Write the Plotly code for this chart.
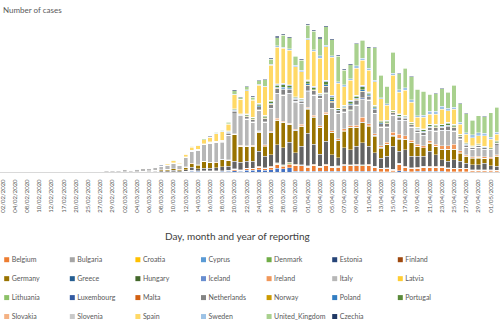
import plotly.graph_objects as go

dates = ["02/02/2020","03/02/2020","04/02/2020","06/02/2020","08/02/2020","09/02/2020","10/02/2020","11/02/2020",
         "12/02/2020","14/02/2020","17/02/2020","18/02/2020","20/02/2020","22/02/2020","25/02/2020","26/02/2020",
         "27/02/2020","28/02/2020","29/02/2020",
         "01/03/2020","02/03/2020","03/03/2020","04/03/2020","05/03/2020","06/03/2020","07/03/2020","08/03/2020",
         "09/03/2020","10/03/2020","11/03/2020","12/03/2020","13/03/2020","14/03/2020","15/03/2020","16/03/2020",
         "17/03/2020","18/03/2020","19/03/2020","20/03/2020","21/03/2020","22/03/2020","23/03/2020","24/03/2020",
         "25/03/2020","26/03/2020","27/03/2020","28/03/2020","29/03/2020","30/03/2020","31/03/2020",
         "01/04/2020","02/04/2020","03/04/2020","04/04/2020","05/04/2020","06/04/2020","07/04/2020","08/04/2020",
         "09/04/2020","10/04/2020","11/04/2020","12/04/2020","13/04/2020","14/04/2020","15/04/2020","16/04/2020",
         "17/04/2020","18/04/2020","19/04/2020","20/04/2020","21/04/2020","22/04/2020","23/04/2020","24/04/2020",
         "25/04/2020","26/04/2020","27/04/2020","28/04/2020","29/04/2020","30/04/2020",
         "01/05/2020","02/05/2020"]

countries = ["Austria","Belgium","Bulgaria","Croatia","Cyprus","Denmark","Estonia","Finland","France","Germany",
             "Greece","Hungary","Iceland","Ireland","Italy","Latvia","Liechtenstein","Lithuania","Luxembourg","Malta",
             "Netherlands","Norway","Poland","Portugal","Romania","Slovakia","Slovenia","Spain","Sweden",
             "United_Kingdom","Czechia"]

colors = ["#4472C4","#ED7D31","#A5A5A5","#FFC000","#5B9BD5","#70AD47","#264478","#9E480E","#636363","#997300",
          "#255E91","#43682B","#698ED0","#F1975A","#B7B7B7","#FFCD33","#7CAFDD","#8CC168","#335AA1","#D26012",
          "#848484","#CC9A00","#327DC2","#5A8A39","#8FAADC","#F4B183","#C9C9C9","#FFD966","#9DC3E6",
          "#A9D18E","#203864"]

# countries whose legend column lies outside the visible crop
hidden_in_legend = ["Austria", "France", "Liechtenstein", "Romania"]

Austria = [0]*14 + [2,0,3,0,4,4,4,7,11,14] + [15,20,35,45,60,60,70,175,140,115,115,115,155,155,315,235,430,430,620,430,620,1020,820,1090,220,220,165,220,165,220,165,165,220,220,220,220,220,165,115,115,60,270,165,115,135,165,165,165,165,115,115,115,115,60,60,60,60,40]
Belgium = [0]*19 + [0,1,6,5,27] + [10,20,30,40,50,50,65,155,125,105,105,105,135,135,280,210,385,385,550,385,550,905,730,970,1365,1365,1035,1365,1035,1365,1035,1035,1365,1365,1365,1365,1365,1035,720,720,390,1695,1035,720,840,1035,1035,1035,1035,720,720,720,720,390,390,390,390,255]
Bulgaria = [0]*24 + [0,0,4,0,2,1,0,16,8,10,0,15,20,10,13,20,33,12,37,24,22,24,28,26,13,38,45,45,25,36,28,46,40,38,22,22,61,24,22,20,46,33,45,56,38,52,48,37,36,54,38,25,23,40,33,34,65,62]
Croatia = [0]*14 + [1,2,0,0,2,1,1,2,0,2] + [1,1,0,1,2,5,5,11,11,6,9,9,8,20,40,21,51,48,52,73,71,91,79,56,96,66,67,81,96,70,51,82,43,69,65,58,54,61,37,33,42,20,30,28,22,29,19,16,28,18,10,30,23,6,11,5,20,6]
Cyprus = [0]*24 + [0,0,0,2,0,0,0,4,12,7,6,7,13,8,9,9,20,8,21,14,16,16,0,41,21,14,52,38,39,24,19,44,45,26,40,15,39,40,11,29,21,10,11,18,9,6,11,12,15,12,17,15,9,15,7,3,5,7]
Denmark = [0]*21 + [1,4,10] + [2,4,6,7,9,9,11,27,22,18,18,18,24,24,49,36,67,67,97,67,97,158,127,169,127,127,97,127,97,127,97,97,127,127,127,127,127,97,67,67,36,158,97,67,78,97,97,97,97,67,67,67,67,36,36,36,36,24]
Estonia = [0]*16 + [1,0,0,0,0,1,1,7] + [7,0,0,0,3,0,15,11,52,13,0,80,12,45,69,43,0,43,46,40,33,36,47,34,58,31,70,34,27,73,43,44,37,22,65,36,46,53,25,21,61,42,33,38,32,65,26,29,13,21,20,25,38,14,31,7,5,0]
Finland = [0]*22 + [1,3] + [1,2,3,4,5,5,6,16,12,10,10,10,14,14,28,21,38,38,55,38,55,90,73,97,73,73,55,73,55,73,55,55,73,73,73,73,73,55,38,38,21,90,55,38,45,55,55,55,55,38,38,38,38,21,21,21,21,14]
France = [0,0,0,6,0,0,0,1,0,0,0,0,0,0,2,4,20,19,43,30,30,61,21,73] + [130,180,260,260,310,260,440,780,520,700,700,700,1040,1040,2000,1900,1740,1740,3900,3040,3040,4760,4340,5200,3040,4760,8500,5200,3040,6060,3040,2160,4340,3900,4760,5640,4760,3460,2600,3040,6060,3040,4340,3040,2860,2600,3900,3040,1740,1740,2160,1740,1300,1300,1300,1740,1040,1040]
Germany = [2,2,2,1,1,0,0,2,0,2,0,0,0,0,2,2,10,27,9,57,28,28,39,66] + [180,180,260,310,390,210,650,910,910,1740,1480,1300,1740,1560,6940,4160,3900,3900,4940,2600,5640,6320,6500,4600,5640,5200,6240,6940,6940,6940,5640,4340,4340,5640,4760,5200,5200,4340,2600,3040,2600,3200,2600,3460,2600,2160,2160,2160,2600,3040,2600,2160,1740,1740,1740,1300,1740,2600]
Greece = [0]*15 + [0,1,2,1,2,0,2,0,1] + [14,7,11,11,6,15,19,35,32,38,20,36,35,31,23,53,35,49,71,48,70,72,73,71,49,44,52,20,57,30,65,47,50,48,33,22,22,26,13,28,48,21,3,12,16,29,11,15,23,30,3,25,27,40,72,0,15,42]
Hungary = [0]*22 + [2,0] + [0,3,2,2,4,3,3,6,11,2,7,11,8,15,27,18,29,36,21,35,18,39,43,36,41,39,55,62,38,38,48,52,68,43,67,70,63,85,93,78,88,114,93,99,66,31,109,73,114,99,72,58,78,50,111,37,81,77]
Iceland = [0]*17 + [1,0,0,2,10,10,13] + [8,3,10,8,16,31,18,57,21,46,9,53,70,34,77,69,30,79,120,49,89,69,63,90,77,79,78,88,54,84,39,43,23,45,80,42,33,54,24,42,16,26,11,13,10,14,22,6,3,2,3,1,3,7,3,4,0,1]
Ireland = [0]*24 + [0,0,0,5,10,10,20,20,30,40,60,70,80,100,120,100,120,120,200,200,250,300,300,200,300,300,300,400,400,400,400,400,400,400,500,1300,500,500,440,500,860,1120,860,500,500,500,500,500,860,860,1300,440,300,300,300,300,300,300]
Italy = [0,0,0,0,0,0,0,0,0,0,0,0,3,14,127,93,78,250,238,240,561,347,466,587] + [600,780,860,1120,1370,1160,2400,3180,3790,4300,4960,5130,4420,6320,5080,7750,6820,5940,5260,5860,5810,6380,6640,7600,7060,5340,4040,5240,6960,4800,5660,6540,4360,3940,5140,4760,6000,5140,4760,3840,4340,3460,3900,3400,2960,2540,2540,3400,3900,3900,3460,3040,1860,1860,2300,1860,1700,2300]
Latvia = [0]*22 + [1,0] + [0,0,1,1,5,0,8,8,0,6,0,16,26,26,25,0,22,19,17,24,12,21,33,21,24,29,0,30,45,20,0,9,7,13,23,28,16,7,10,16,22,0,14,12,13,7,0,2,10,9,14,8,3,22,6,4,7,13]
Liechtenstein = [0]*24 + [0,0,0,0,0,0,1,3,0,0,3,0,0,0,21,0,10,0,0,0,5,0,5,0,0,0,0,0,6,0,0,0,2,0,1,2,0,0,0,0,0,0,0,0,1,0,0,0,0,0,0,0,0,0,0,0,0,0]
Lithuania = [0]*17 + [1,0,0,0,0,0,0] + [0,0,0,0,1,0,1,2,2,4,0,8,2,15,9,20,22,20,34,25,65,25,83,48,79,62,58,40,36,59,72,63,81,69,49,112,38,79,44,34,30,36,56,41,37,34,27,18,22,47,30,58,27,13,20,18,6,13]
Luxembourg = [0]*19 + [1,0,0,0,1] + [2,2,3,5,3,3,3,6,17,12,22,34,48,45,52,16,52,52,70,70,86,104,122,94,52,52,122,86,52,138,138,52,70,104,104,138,86,86,70,70,52,70,52,52,52,70,70,70,70,86,70,52,52,34,34,34,34,52]
Malta = [0]*24 + [0,1,2,0,0,2,3,6,4,4,7,7,8,10,10,3,5,17,10,19,10,11,12,5,4,8,14,6,13,14,11,21,8,14,13,7,13,3,5,4,15,3,11,3,9,5,0,3,2,4,5,4,1,3,2,1,5,0]
Netherlands = [0]*16 + [1,1,5,4,8,6,14,43] + [22,36,45,58,95,81,58,81,58,72,58,95,117,504,585,175,585,585,783,783,972,1170,1368,1053,585,585,1368,972,585,1557,1557,585,783,1170,1170,1557,972,972,783,783,585,783,585,585,585,783,783,783,783,972,783,585,585,387,387,387,387,585]
Norway = [0]*16 + [1,0,5,11,6,6,14,27] + [10,20,40,50,60,50,20,10,5,10,5,20,10,67,78,23,78,78,104,104,130,156,182,140,78,78,182,130,78,208,208,78,104,156,156,208,130,130,104,104,78,104,78,78,78,104,104,104,104,130,104,78,78,52,52,52,52,78]
Poland = [0]*22 + [1,0] + [5,6,0,0,6,5,16,17,17,8,18,0,50,112,130,39,130,130,174,174,216,260,304,234,130,130,304,216,130,346,346,130,174,260,260,346,216,216,174,174,130,174,130,130,130,174,174,174,174,216,174,130,130,86,86,86,86,130]
Portugal = [0]*20 + [2,2,1,4] + [0,0,0,0,9,20,19,34,57,32,86,117,80,245,285,86,285,285,382,382,475,570,670,515,285,285,670,475,285,760,760,285,382,570,570,760,475,475,382,382,285,382,285,285,285,382,382,382,382,475,382,285,285,190,190,190,190,285]
Romania = [0]*14 + [0,1,0,2,0,0,0,0,1,0] + [1,0,2,2,5,9,13,19,25,16,47,29,63,112,130,39,130,130,174,174,216,260,304,234,130,130,304,216,130,346,346,130,174,260,260,346,216,216,174,174,130,174,130,130,130,174,174,174,174,216,174,130,130,86,86,86,86,130]
Slovakia = [0]*24 + [1,0,2,0,4,3,11,11,12,17,9,25,25,19,14,41,7,19,12,27,30,22,24,21,19,41,0,37,55,44,45,48,51,7,19,19,29,9,28,14,7,32,62,36,32,39,25,10,22,31,42,9,16,3,5,6,12,10]
Slovenia = [0]*23 + [1] + [7,4,4,9,9,19,37,85,48,34,78,13,56,31,32,33,86,40,63,58,48,30,41,70,24,46,45,79,37,11,26,20,29,28,57,37,48,26,17,29,20,19,40,17,17,31,12,12,6,3,18,26,13,3,17,8,10,1]
Spain = [0,0,0,0,0,1,0,0,0,0,0,0,0,0,4,6,9,17,12,17,45,37,56,60] + [50,100,80,160,520,310,700,780,880,960,1170,1950,2180,1740,3640,3720,6060,4340,4760,7360,9100,9540,9100,8920,7800,6940,10400,9100,9100,8660,9960,6500,4760,5200,6940,6500,5640,6060,5640,3900,9100,5640,6500,5200,2600,3040,2600,2600,3900,3040,3900,2600,2160,2160,2160,2780,2160,1740]
Sweden = [0]*15 + [1,0,6,4,2,1,8,6,24] + [10,15,20,25,30,40,50,60,70,80,90,100,120,130,150,120,160,130,160,180,230,300,240,330,290,320,390,470,560,430,380,380,490,480,720,540,470,430,330,470,480,610,680,610,390,560,680,750,800,610,480,460,350,700,680,600,560,460]
United_Kingdom = [0,2,0,1,0,1,4,0,0,0,0,0,0,0,0,0,3,7,0,12,13,4,11,34] + [0,0,0,17,10,23,68,116,100,200,75,220,230,390,910,350,780,740,940,1630,1250,2180,3150,2870,2380,2650,3430,4750,4530,4760,4140,6620,3750,3610,5620,4680,5300,8450,5820,4460,5420,4210,5090,5970,6910,6140,4440,4620,4500,4210,5790,4860,4960,3840,4470,4360,6320,6560]
Czechia = [0]*19 + [3,0,2,0,3] + [7,7,20,8,10,17,22,24,40,60,85,80,100,130,160,130,180,170,200,190,260,300,250,260,190,230,260,240,290,270,240,200,260,250,160,160,290,120,90,90,160,120,130,100,60,60,80,90,80,120,50,60,70,60,50,60,60,80]

series = [Austria, Belgium, Bulgaria, Croatia, Cyprus, Denmark, Estonia, Finland, France, Germany,
          Greece, Hungary, Iceland, Ireland, Italy, Latvia, Liechtenstein, Lithuania, Luxembourg, Malta,
          Netherlands, Norway, Poland, Portugal, Romania, Slovakia, Slovenia, Spain, Sweden,
          United_Kingdom, Czechia]

for name, vals in zip(countries, series):
    assert len(vals) == len(dates), (name, len(vals))

W, H = 500, 333
PLOT_TOP, PLOT_BOTTOM = 18, 172.5
plot_h = PLOT_BOTTOM - PLOT_TOP

def py(px):
    return (PLOT_BOTTOM - px) / plot_h

# legend layout (pixels)
LEG_COLS = 7
LEG_COL_W = 65.6
LEG_TEXT_X0 = 11.7
LEG_SWATCH_X0 = 6.7
LEG_ROW_Y0 = 260.5
LEG_ROW_H = 19.0
SWATCH = 5.0

fig = go.Figure()
for name, vals, col in zip(countries, series, colors):
    fig.add_trace(go.Bar(x=dates, y=vals, name=name, showlegend=False,
                         marker=dict(color=col, line=dict(color="white", width=0.4))))

legend_names = [c for c in countries if c not in hidden_in_legend]
legend_cols = [colors[countries.index(c)] for c in legend_names]
for name, col in zip(legend_names, legend_cols):
    fig.add_trace(go.Scatter(x=[None], y=[None], mode="markers", name=name,
                             marker=dict(symbol="square", size=5, color="rgba(0,0,0,0)",
                                         line=dict(width=0))))

# colour keys drawn right beside each legend text, as in the original
shapes = []
for k, col in enumerate(legend_cols):
    r, c = divmod(k, LEG_COLS)
    cx = LEG_SWATCH_X0 + c * LEG_COL_W
    cy = LEG_ROW_Y0 + r * LEG_ROW_H
    shapes.append(dict(type="rect", xref="paper", yref="paper",
                       x0=(cx - SWATCH / 2) / W, x1=(cx + SWATCH / 2) / W,
                       y0=py(cy + SWATCH / 2), y1=py(cy - SWATCH / 2),
                       fillcolor=col, line=dict(width=0)))

fig.update_layout(
    width=W, height=H,
    margin=dict(l=0, r=0, t=PLOT_TOP, b=H - PLOT_BOTTOM, autoexpand=False),
    barmode="stack", bargap=0.3,
    plot_bgcolor="white", paper_bgcolor="white",
    font=dict(family="Lato", color="#595959"),
    xaxis=dict(type="category", categoryorder="array", categoryarray=dates,
               range=[-0.443, 81.52],
               tickmode="array", tickvals=dates[::2], ticktext=dates[::2],
               tickangle=-90, tickfont=dict(family="Lato", size=6, color="#595959"),
               showline=True, linecolor="#D9D9D9", linewidth=1, showgrid=False,
               ticks="", ticklabelstandoff=4),
    yaxis=dict(visible=False, range=[0, 40000]),
    legend=dict(orientation="h", traceorder="normal",
                x=(LEG_TEXT_X0 - 40) / W, xanchor="left", y=py(LEG_ROW_Y0 - 14.5), yanchor="top",
                entrywidth=LEG_COL_W - 45, entrywidthmode="pixels", itemwidth=30,
                font=dict(family="Lato", size=7, color="#595959"),
                bgcolor="rgba(0,0,0,0)", tracegroupgap=0),
    shapes=shapes,
    annotations=[
        dict(text="Day, month and year of reporting", x=237.5 / W, y=py(237), xref="paper", yref="paper",
             xanchor="center", yanchor="middle", showarrow=False,
             font=dict(family="Lato", size=10, color="#404040")),
        dict(text="Number of cases", x=1 / W, y=py(10), xref="paper", yref="paper",
             xanchor="left", yanchor="middle", showarrow=False,
             font=dict(family="Lato", size=8, color="#595959")),
    ],
)

fig.write_html("out.html")
